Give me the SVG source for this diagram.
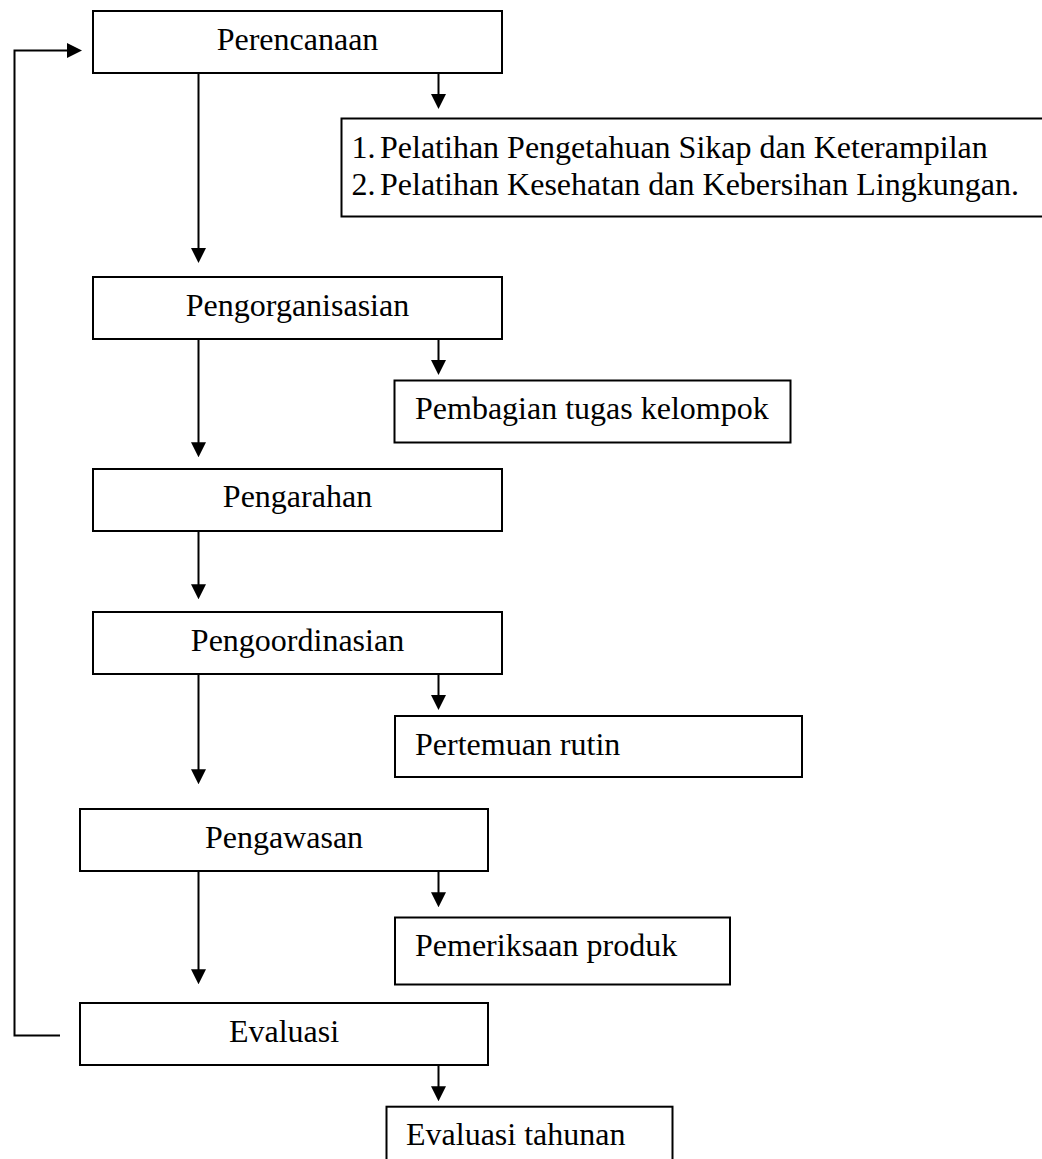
<svg xmlns="http://www.w3.org/2000/svg" width="1042" height="1159" viewBox="0 0 1042 1159">
<style>
.box{fill:#fff;stroke:#000;stroke-width:2}
.t{font-family:"Liberation Serif","Times New Roman",serif;font-size:32px;fill:#000}
.c{text-anchor:middle}
.ln{fill:none;stroke:#000;stroke-width:2}
</style>
<defs>
<marker id="ah" viewBox="0 0 15 15" refX="7" refY="7.5" markerWidth="15" markerHeight="15" markerUnits="userSpaceOnUse" orient="auto">
<path d="M0,0 L15,7.5 L0,15 Z" fill="#000"/>
</marker>
</defs>
<rect width="1042" height="1159" fill="#fff"/>
<g id="connectors">
<path class="ln" d="M198.5,73 V255" marker-end="url(#ah)"/>
<path class="ln" d="M198.5,340 V449.3" marker-end="url(#ah)"/>
<path class="ln" d="M198.5,531.7 V591.3" marker-end="url(#ah)"/>
<path class="ln" d="M198.5,675 V776.3" marker-end="url(#ah)"/>
<path class="ln" d="M198.5,871.7 V976.3" marker-end="url(#ah)"/>
<path class="ln" d="M438.5,73 V101" marker-end="url(#ah)"/>
<path class="ln" d="M438.5,340 V367" marker-end="url(#ah)"/>
<path class="ln" d="M438.5,675 V702" marker-end="url(#ah)"/>
<path class="ln" d="M438.5,871.7 V899.3" marker-end="url(#ah)"/>
<path class="ln" d="M438.5,1066 V1093.3" marker-end="url(#ah)"/>
<path class="ln" d="M60,1035.5 H14.5 V50.5 H74" marker-end="url(#ah)"/>
</g>
<g id="perencanaan">
<rect class="box" x="93" y="11" width="409" height="62"/>
<text class="t c" x="297.5" y="50">Perencanaan</text>
</g>
<g id="pelatihan">
<rect class="box" x="341.5" y="118.5" width="720" height="98"/>
<text class="t" x="351.5" y="157.5">1.</text>
<text class="t" x="380" y="157.5">Pelatihan Pengetahuan Sikap dan Keterampilan</text>
<text class="t" x="351.5" y="195">2.</text>
<text class="t" x="380" y="195">Pelatihan Kesehatan dan Kebersihan Lingkungan.</text>
</g>
<g id="pengorganisasian">
<rect class="box" x="93" y="277" width="409" height="62"/>
<text class="t c" x="297.5" y="316">Pengorganisasian</text>
</g>
<g id="pembagian">
<rect class="box" x="394.5" y="380.5" width="396" height="62"/>
<text class="t" x="415" y="419.3">Pembagian tugas kelompok</text>
</g>
<g id="pengarahan">
<rect class="box" x="93" y="469" width="409" height="62"/>
<text class="t c" x="297.5" y="507.3">Pengarahan</text>
</g>
<g id="pengoordinasian">
<rect class="box" x="93" y="612" width="409" height="62"/>
<text class="t c" x="297.5" y="650.7">Pengoordinasian</text>
</g>
<g id="pertemuan">
<rect class="box" x="395" y="716" width="407" height="61"/>
<text class="t" x="415" y="755">Pertemuan rutin</text>
</g>
<g id="pengawasan">
<rect class="box" x="80" y="809" width="408" height="62"/>
<text class="t c" x="284" y="847.7">Pengawasan</text>
</g>
<g id="pemeriksaan">
<rect class="box" x="395" y="917.5" width="335" height="67"/>
<text class="t" x="415" y="956.3">Pemeriksaan produk</text>
</g>
<g id="evaluasi">
<rect class="box" x="80" y="1003" width="408" height="62"/>
<text class="t c" x="284" y="1041.7">Evaluasi</text>
</g>
<g id="evaluasi-tahunan">
<rect class="box" x="386.5" y="1106.7" width="286" height="80"/>
<text class="t" x="406" y="1145">Evaluasi tahunan</text>
</g>
</svg>
